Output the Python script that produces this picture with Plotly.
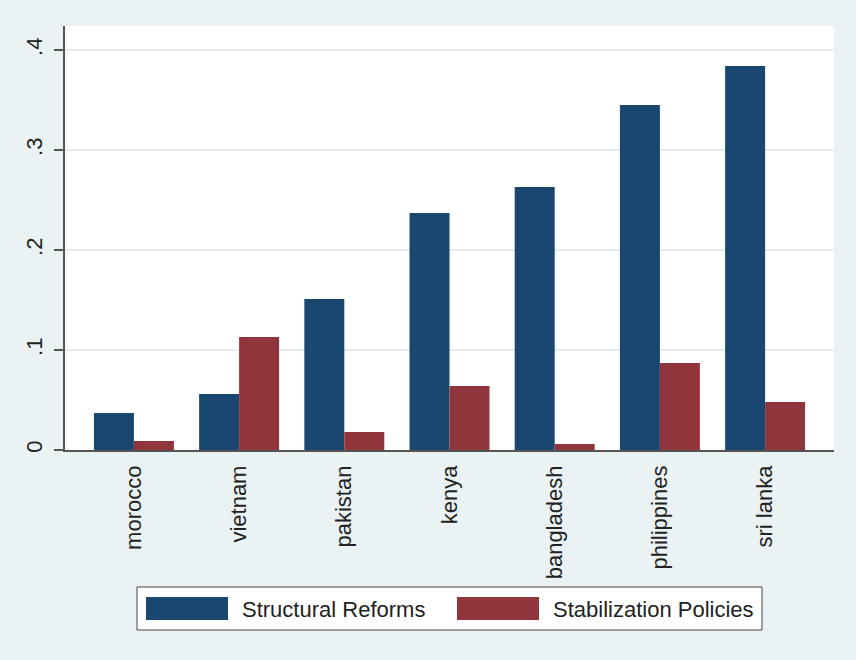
import plotly.graph_objects as go

COUNTRIES = ["morocco", "vietnam", "pakistan", "kenya", "bangladesh", "philippines", "sri lanka"]
STRUCTURAL = [0.037, 0.056, 0.151, 0.237, 0.263, 0.345, 0.384]
STABILIZATION = [0.009, 0.113, 0.018, 0.064, 0.006, 0.087, 0.048]
SERIES_NAMES = ["Structural Reforms", "Stabilization Policies"]
Y_TICKS = [0, 0.1, 0.2, 0.3, 0.4]
Y_TICK_TEXT = ["0", ".1", ".2", ".3", ".4"]

NAVY = "#1a476f"
MAROON = "#90353b"
BG = "#eaf2f3"
FONT = "Liberation Sans, Arial, sans-serif"

x_pos = list(range(len(COUNTRIES)))

fig = go.Figure()
fig.add_trace(go.Bar(x=x_pos, y=STRUCTURAL, name=SERIES_NAMES[0],
                     marker=dict(color=NAVY, line=dict(width=0))))
fig.add_trace(go.Bar(x=x_pos, y=STABILIZATION, name=SERIES_NAMES[1],
                     marker=dict(color=MAROON, line=dict(width=0))))

# plot area in pixels: x 65..834, y 26..450
PL, PW, PB, PH = 65, 769, 450, 424


def px(x):
    return (x - PL) / PW


def py(y):
    return (PB - y) / PH


# legend drawn by hand so the swatches are as big as in the original
shapes = [dict(type="rect", xref="paper", yref="paper",
               x0=px(137), x1=px(762), y0=py(630), y1=py(587),
               fillcolor="white", line=dict(color="#444444", width=1))]
annotations = []
swatches = [(146, 228, NAVY), (457, 539, MAROON)]
text_x = [240, 551]
for (sx0, sx1, col), tx, name in zip(swatches, text_x, SERIES_NAMES):
    shapes.append(dict(type="rect", xref="paper", yref="paper",
                       x0=px(sx0), x1=px(sx1), y0=py(620), y1=py(597),
                       fillcolor=col, line=dict(width=0)))
    annotations.append(dict(text=name, xref="paper", yref="paper",
                            x=px(tx), y=py(609),
                            xanchor="left", yanchor="middle", showarrow=False,
                            font=dict(family=FONT, size=22, color="#222222")))

fig.update_layout(
    width=856, height=660,
    paper_bgcolor=BG, plot_bgcolor="white",
    margin=dict(l=65, r=22, t=26, b=210),
    barmode="group", bargap=0.24, bargroupgap=0,
    showlegend=False,
    font=dict(family=FONT, size=22, color="#222222"),
    shapes=shapes, annotations=annotations,
    xaxis=dict(
        range=[-0.655, 6.655], tickvals=x_pos, ticktext=COUNTRIES,
        tickangle=-90, showgrid=False, zeroline=False,
        showline=True, linecolor="#555555", linewidth=1.5,
        ticks="", ticklabelstandoff=5,
        tickfont=dict(family=FONT, size=22, color="#222222"),
    ),
    yaxis=dict(
        range=[0, 0.424], tickvals=Y_TICKS, ticktext=Y_TICK_TEXT,
        tickangle=-90, showgrid=True, gridcolor="#e3ecef", gridwidth=2,
        zeroline=False, showline=True, linecolor="#555555", linewidth=1.5,
        ticks="outside", ticklen=9, tickcolor="#555555", tickwidth=1.5,
        ticklabelstandoff=3,
        tickfont=dict(family=FONT, size=22, color="#222222"),
    ),
)

fig.write_html("out.html", config={"displayModeBar": False},
               post_script="document.body.style.margin = '0';")
